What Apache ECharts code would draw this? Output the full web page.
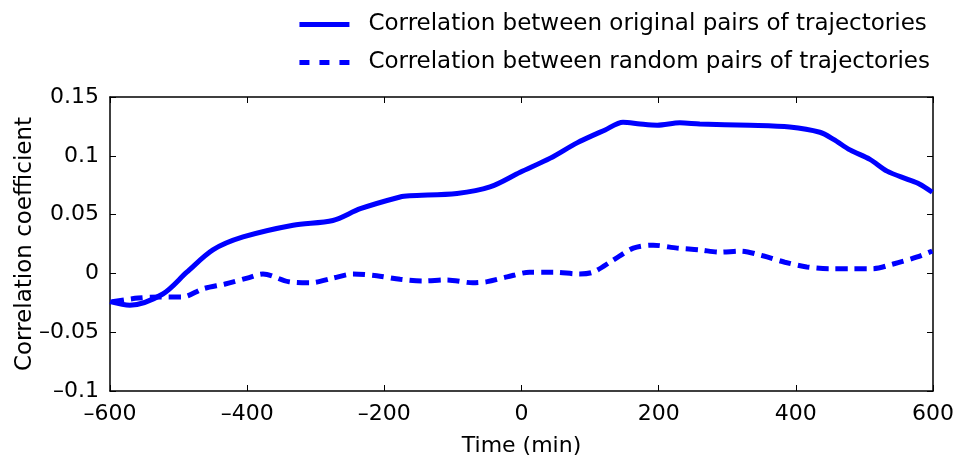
<!DOCTYPE html>
<html><head><meta charset="utf-8">
<script src="https://cdn.jsdelivr.net/npm/echarts@6/dist/echarts.min.js"></script>
<style>html,body{margin:0;padding:0;background:#fff}#c{width:959px;height:461px}</style>
</head><body><div id="c"></div>
<script>
var seriesNames = ['Correlation between original pairs of trajectories', 'Correlation between random pairs of trajectories'];
var origTime = [-600,-571,-523,-488,-450,-406,-333,-275,-235,-177,-163,-94,-46,-2,42,81,122,148,173,198,231,260,333,391,435,455,479,508,533,563,580,599];
var origVals = [-0.024,-0.027,-0.0175,0.001,0.020,0.031,0.041,0.045,0.055,0.065,0.066,0.068,0.0735,0.086,0.098,0.111,0.122,0.1285,0.127,0.126,0.128,0.127,0.126,0.1245,0.120,0.114,0.105,0.097,0.087,0.080,0.076,0.069];
var randTime = [-597,-559,-527,-494,-464,-432,-400,-377,-340,-308,-275,-246,-211,-177,-144,-109,-71,-50,-21,12,46,85,104,133,163,192,227,260,289,319,352,384,416,450,483,512,542,577,599];
var randVals = [-0.024,-0.021,-0.020,-0.020,-0.013,-0.009,-0.004,-0.0005,-0.007,-0.008,-0.004,-0.0005,-0.002,-0.005,-0.0065,-0.0055,-0.008,-0.007,-0.003,0.001,0.001,-0.0005,0.001,0.011,0.0215,0.024,0.0215,0.020,0.018,0.019,0.015,0.0095,0.0055,0.004,0.004,0.004,0.008,0.014,0.019];
var xTicks = [-600,-400,-200,0,200,400,600];
var yTicks = [-0.1,-0.05,0,0.05,0.1,0.15];

function pairs(t, v){ return t.map(function(x,i){ return [x, v[i]]; }); }
function fmt(v){ var s = String(Math.round(v*100)/100); return s.replace('-', '\u2013'); }
var font = 'DejaVu Sans, sans-serif';
var chart = echarts.init(document.getElementById('c'));
var axisLineStyle = {color:'#000', width:1.5};
chart.setOption({
  animation:false,
  backgroundColor:'#fff',
  legend:{
    orient:'vertical', right:24, top:8, itemWidth:50, itemHeight:5, itemGap:15,
    textStyle:{fontFamily:font, fontSize:23, color:'#000', padding:[0,0,0,14]},
    data:[{name:seriesNames[0], icon:'path://M0,0H50V5H0Z'},{name:seriesNames[1], icon:'path://M0,0H10V5H0Z M20,0H30V5H20Z M40,0H50V5H40Z'}]
  },
  grid:{left:110, right:26, top:97, bottom:70, outerBoundsMode:'none', containLabel:false},
  xAxis:[{
    type:'value', min:-600, max:600, interval:200,
    name:'Time (min)', nameLocation:'middle', nameGap:44, nameMoveOverlap:false,
    nameTextStyle:{fontFamily:font, fontSize:22, color:'#000'},
    axisLine:{show:true, onZero:false, lineStyle:axisLineStyle},
    axisTick:{show:true, inside:true, length:6, lineStyle:{color:'#000'}},
    axisLabel:{fontFamily:font, fontSize:22, color:'#000', margin:12, formatter:function(v){return fmt(v);}},
    splitLine:{show:false}
  },{
    type:'value', position:'top', min:-600, max:600, interval:200,
    axisLine:{show:true, onZero:false, lineStyle:axisLineStyle},
    axisTick:{show:true, inside:true, length:6, lineStyle:{color:'#000'}},
    axisLabel:{show:false}, splitLine:{show:false}
  }],
  yAxis:[{
    type:'value', min:-0.1, max:0.15, interval:0.05,
    name:'Correlation coefficient', nameLocation:'middle', nameGap:73, nameRotate:90, nameMoveOverlap:false,
    nameTextStyle:{fontFamily:font, fontSize:23, color:'#000'},
    axisLine:{show:true, onZero:false, lineStyle:axisLineStyle},
    axisTick:{show:true, inside:true, length:6, lineStyle:{color:'#000'}},
    axisLabel:{fontFamily:font, fontSize:22, color:'#000', margin:11, formatter:function(v){return fmt(v);}},
    splitLine:{show:false}
  },{
    type:'value', position:'right', min:-0.1, max:0.15, interval:0.05,
    axisLine:{show:true, onZero:false, lineStyle:axisLineStyle},
    axisTick:{show:true, inside:true, length:6, lineStyle:{color:'#000'}},
    axisLabel:{show:false}, splitLine:{show:false}
  }],
  series:[{
    name:seriesNames[0], type:'line', data:pairs(origTime, origVals), smooth:0.3, showSymbol:false,
    lineStyle:{color:'#0000ff', width:5}, itemStyle:{color:'#0000ff'}
  },{
    name:seriesNames[1], type:'line', data:pairs(randTime, randVals), smooth:0.3, showSymbol:false,
    lineStyle:{color:'#0000ff', width:5, type:[12,7]}, itemStyle:{color:'#0000ff'}
  }]
});
</script></body></html>
